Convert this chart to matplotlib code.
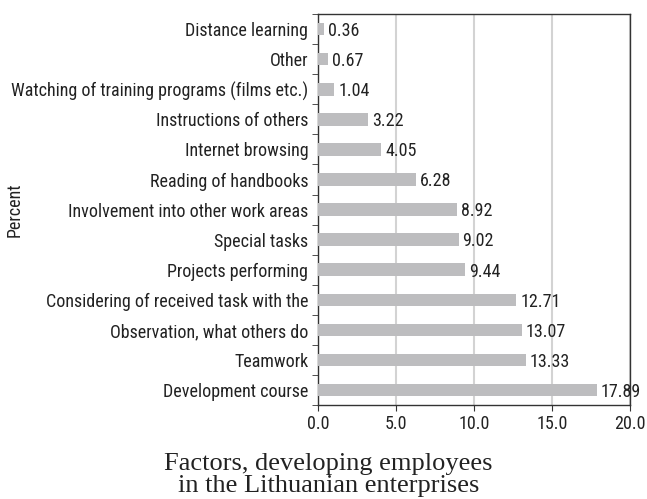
import numpy as np
import matplotlib.pyplot as plt
from matplotlib import font_manager

categories = [
    "Development course",
    "Teamwork",
    "Observation, what others do",
    "Considering of received task with the",
    "Projects performing",
    "Special tasks",
    "Involvement into other work areas",
    "Reading of handbooks",
    "Internet browsing",
    "Instructions of others",
    "Watching of training programs (films etc.)",
    "Other",
    "Distance learning",
]
values = [17.89, 13.33, 13.07, 12.71, 9.44, 9.02, 8.92, 6.28, 4.05, 3.22, 1.04, 0.67, 0.36]
x_ticks = [0, 5, 10, 15, 20]
title_lines = ["Factors, developing employees", "in the Lithuanian enterprises"]

# narrow sans like the original, falling back if missing
names = {f.name for f in font_manager.fontManager.ttflist}
sans = next((n for n in ["Roboto Condensed", "Archivo Narrow", "PT Sans Narrow"] if n in names),
            "Liberation Sans")
plt.rcParams["font.family"] = [sans, "DejaVu Sans"]
fs = 13
txt = "#222222"

fig = plt.figure(figsize=(6.47, 4.99), dpi=100)
ax = fig.add_axes([0.4915, 0.188, 0.4822, 0.784])

y = np.arange(len(categories))
ax.barh(y, values, height=0.42, color="#bdbdbf", zorder=3)
for yi, v in zip(y, values):
    ax.text(v + 0.25, yi - 0.06, f"{v:.2f}", va="center", ha="left",
            fontsize=fs, color=txt, zorder=4)

ax.set_xlim(0, 20)
ax.set_ylim(-0.5, len(categories) - 0.5)
ax.set_xticks(x_ticks)
ax.set_xticklabels([f"{t:.1f}" for t in x_ticks], fontsize=fs, color=txt)
ax.set_yticks(y)
ax.set_yticklabels(categories, fontsize=fs, color=txt)
ax.set_yticks(np.arange(-0.5, len(categories)), minor=True)
ax.tick_params(axis="y", which="major", length=0, pad=7)
ax.tick_params(axis="y", which="minor", length=4, color="#333333")
ax.tick_params(axis="x", length=4, color="#333333", pad=3)
ax.xaxis.grid(True, color="#d3d3d3", linewidth=1.5, zorder=0)
for side in ["left", "bottom", "top", "right"]:
    ax.spines[side].set_color("#333333")
    ax.spines[side].set_linewidth(1.0)

ax.set_ylabel("Percent", fontsize=fs, color=txt)
ax.yaxis.set_label_coords(-0.945, 0.5)

fig.text(0.508, 0.058, title_lines[0], ha="center", va="baseline",
         fontsize=19, family="Liberation Serif", color=txt)
fig.text(0.508, 0.0135, title_lines[1], ha="center", va="baseline",
         fontsize=19, family="Liberation Serif", color=txt)

fig.savefig("out.png", dpi=100)
